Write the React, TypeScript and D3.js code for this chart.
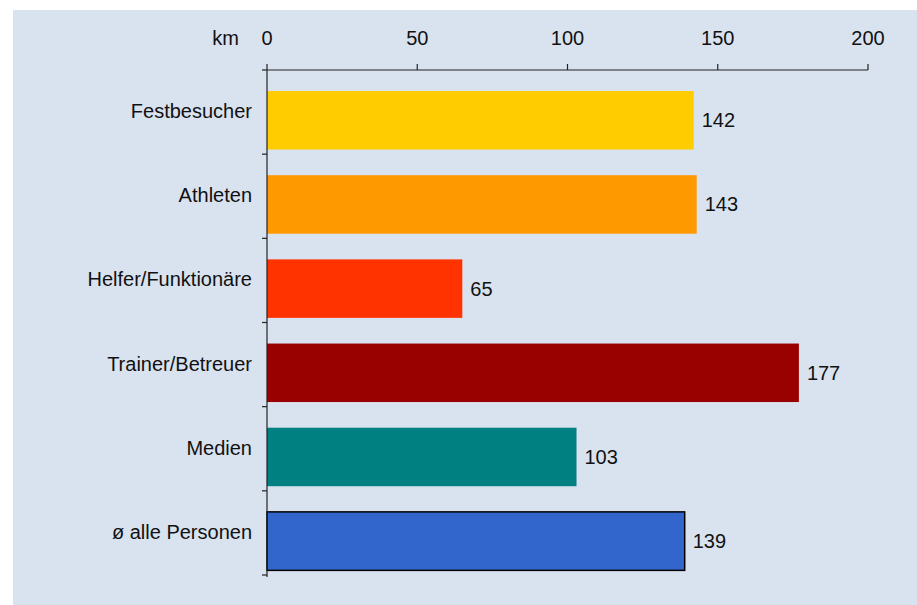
import React from "react";
import * as d3 from "d3";

const categories = ["Festbesucher", "Athleten", "Helfer/Funktionäre", "Trainer/Betreuer", "Medien", "ø alle Personen"];
const values = [142, 143, 65, 177, 103, 139];
const colors = ["#FFCC00", "#FF9900", "#FF3300", "#990000", "#008080", "#3366CC"];
const xTicks = [0, 50, 100, 150, 200];
const unitLabel = "km";

const W = 917;
const H = 605;
const FONT = "'Liberation Sans', Arial, Helvetica, sans-serif";

export default function App() {
  const x = d3.scaleLinear().domain([0, 200]).range([267, 868]);
  const y = d3.scaleBand<string>().domain(categories).range([70, 575]).padding(0);
  const bw = y.bandwidth();
  const boundaries = categories.map((c) => y(c) as number).concat([575]);

  return (
    <svg
      width={W}
      height={H}
      style={{ position: "absolute", left: 0, top: 0, fontFamily: FONT }}
    >
      <rect x={0} y={0} width={W} height={H} fill="#ffffff" />
      <rect x={13} y={10} width={W - 13} height={H - 10} fill="#D9E3EF" />

      {/* bars */}
      {categories.map((c, i) => {
        const y0 = (y(c) as number) + bw * 0.25;
        const h = bw * 0.695;
        const last = i === categories.length - 1;
        return (
          <g key={c}>
            <rect
              x={x(0)}
              y={y0}
              width={x(values[i]) - x(0)}
              height={h}
              fill={colors[i]}
              stroke={last ? "#000" : "none"}
              strokeWidth={last ? 1.5 : 0}
            />
            <text
              x={x(values[i]) + 8}
              y={y0 + h / 2}
              dy="0.35em"
              fontSize={20}
              fill="#111"
            >
              {values[i]}
            </text>
            <text
              x={252}
              y={(y(c) as number) + bw / 2}
              dy="0.3em"
              fontSize={20}
              textAnchor="end"
              fill="#111"
            >
              {c}
            </text>
          </g>
        );
      })}

      {/* top axis */}
      <line x1={x(0)} x2={x(200)} y1={70} y2={70} stroke="#222" strokeWidth={1.2} />
      {xTicks.map((t) => (
        <g key={t}>
          <line x1={x(t)} x2={x(t)} y1={64} y2={70} stroke="#222" strokeWidth={1.2} />
          <text x={x(t)} y={45} fontSize={20} textAnchor="middle" fill="#111">
            {t}
          </text>
        </g>
      ))}
      <text x={239} y={45} fontSize={20} textAnchor="end" fill="#111">
        {unitLabel}
      </text>

      {/* left axis */}
      <line x1={x(0)} x2={x(0)} y1={70} y2={577} stroke="#222" strokeWidth={1.2} />
      {boundaries.map((b, i) => (
        <line key={i} x1={262} x2={x(0)} y1={b} y2={b} stroke="#222" strokeWidth={1.2} />
      ))}
    </svg>
  );
}
